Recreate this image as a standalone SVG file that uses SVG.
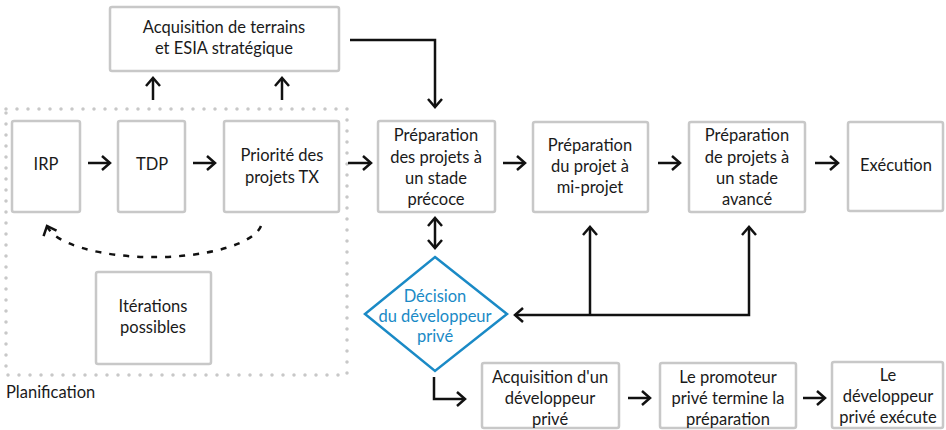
<svg xmlns="http://www.w3.org/2000/svg" width="946" height="430" viewBox="0 0 946 430">
<defs>
<style>
.box{fill:#fff;stroke:#c8c8c8;stroke-width:2.5}
.t{font-family:Lato,"Open Sans","Liberation Sans",sans-serif;font-size:16.5px;fill:#1a1a1a;text-anchor:middle}
.b{fill:#1a8ac6}
.ln{fill:none;stroke:#111;stroke-width:2.5}
.dot{fill:none;stroke:#c8c8c8;stroke-width:3.5;stroke-linecap:round;stroke-dasharray:0 11}
</style>
<marker id="ah" viewBox="0 0 12 16" markerWidth="12" markerHeight="16" refX="10" refY="8" orient="auto-start-reverse" markerUnits="userSpaceOnUse">
<polyline points="2,1 10,8 2,15" fill="none" stroke="#111" stroke-width="2.5"/>
</marker>
</defs>
<rect width="946" height="430" fill="#fff"/>

<g id="planification">
<rect class="dot" x="6" y="109" width="341" height="266"/>
<text x="6" y="398" class="t" style="text-anchor:start">Planification</text>
</g>

<g id="acq-terrains"><rect class="box" x="110" y="7" width="229" height="64" rx="2"/>
<text class="t" x="224" y="33">Acquisition de terrains</text><text class="t" x="224" y="54">et ESIA stratégique</text></g>

<g id="irp"><rect class="box" x="12" y="121" width="68" height="91" rx="2"/><text class="t" x="46" y="170">IRP</text></g>
<g id="tdp"><rect class="box" x="118" y="121" width="67" height="91" rx="2"/><text class="t" x="152" y="170">TDP</text></g>
<g id="priorite"><rect class="box" x="224" y="121" width="115" height="91" rx="2"/>
<text class="t" x="282" y="161">Priorité des</text><text class="t" x="282" y="183">projets TX</text></g>

<g id="iterations"><rect class="box" x="96" y="272" width="115" height="92" rx="2"/>
<text class="t" x="153" y="312">Itérations</text><text class="t" x="153" y="333">possibles</text></g>

<g id="prep-precoce"><rect class="box" x="378" y="121" width="117" height="91" rx="2"/>
<text class="t" x="436" y="141">Préparation</text><text class="t" x="436" y="163">des projets à</text><text class="t" x="436" y="184">un stade</text><text class="t" x="436" y="205">précoce</text></g>

<g id="prep-mi"><rect class="box" x="533" y="122" width="115" height="90" rx="2"/>
<text class="t" x="590" y="151">Préparation</text><text class="t" x="590" y="172">du projet à</text><text class="t" x="590" y="193">mi-projet</text></g>

<g id="prep-avance"><rect class="box" x="689" y="122" width="116" height="90" rx="2"/>
<text class="t" x="747" y="141">Préparation</text><text class="t" x="747" y="163">de projets à</text><text class="t" x="747" y="184">un stade</text><text class="t" x="747" y="205">avancé</text></g>

<g id="execution"><rect class="box" x="848" y="122" width="95" height="89" rx="2"/>
<text class="t" x="896" y="171">Exécution</text></g>

<g id="decision"><polygon points="435,257 507,314 435,371 365,314" fill="#fff" stroke="#1a8ac6" stroke-width="2.5"/>
<text class="t b" x="435" y="302">Décision</text><text class="t b" x="435" y="322">du développeur</text><text class="t b" x="435" y="342">privé</text></g>

<g id="acq-dev"><rect class="box" x="482" y="363" width="137" height="65" rx="2"/>
<text class="t" x="550" y="383">Acquisition d'un</text><text class="t" x="550" y="404">développeur</text><text class="t" x="550" y="425">privé</text></g>

<g id="promoteur"><rect class="box" x="660" y="363" width="136" height="65" rx="2"/>
<text class="t" x="728" y="383">Le promoteur</text><text class="t" x="728" y="404">privé termine la</text><text class="t" x="728" y="425">préparation</text></g>

<g id="dev-execute"><rect class="box" x="832" y="362" width="111" height="66" rx="2"/>
<text class="t" x="888" y="381">Le</text><text class="t" x="888" y="402">développeur</text><text class="t" x="888" y="423">privé exécute</text></g>

<g id="connectors">
<line class="ln" x1="153" y1="100" x2="153" y2="78" marker-end="url(#ah)"/>
<line class="ln" x1="282" y1="100" x2="282" y2="78" marker-end="url(#ah)"/>
<polyline class="ln" points="350,40 435,40 435,107" marker-end="url(#ah)"/>
<line class="ln" x1="88" y1="163" x2="110" y2="163" marker-end="url(#ah)"/>
<line class="ln" x1="193" y1="163" x2="215" y2="163" marker-end="url(#ah)"/>
<line class="ln" x1="348" y1="163" x2="371" y2="163" marker-end="url(#ah)"/>
<line class="ln" x1="503" y1="163" x2="525" y2="163" marker-end="url(#ah)"/>
<line class="ln" x1="658" y1="163" x2="680" y2="163" marker-end="url(#ah)"/>
<line class="ln" x1="815" y1="163" x2="838" y2="163" marker-end="url(#ah)"/>
<line class="ln" x1="435" y1="218" x2="435" y2="248" marker-start="url(#ah)" marker-end="url(#ah)"/>
<polyline class="ln" points="749,227 749,315 515,315" marker-start="url(#ah)" marker-end="url(#ah)"/>
<line class="ln" x1="590" y1="315" x2="590" y2="227" marker-end="url(#ah)"/>
<polyline class="ln" points="434,377 434,399 465,399" marker-end="url(#ah)"/>
<line class="ln" x1="628" y1="398" x2="650" y2="398" marker-end="url(#ah)"/>
<line class="ln" x1="803" y1="398" x2="825" y2="398" marker-end="url(#ah)"/>
<path class="ln" d="M261,226 A108,36 0 0 1 47,226" stroke-dasharray="6 8" marker-end="url(#ah)"/>
</g>
</svg>
